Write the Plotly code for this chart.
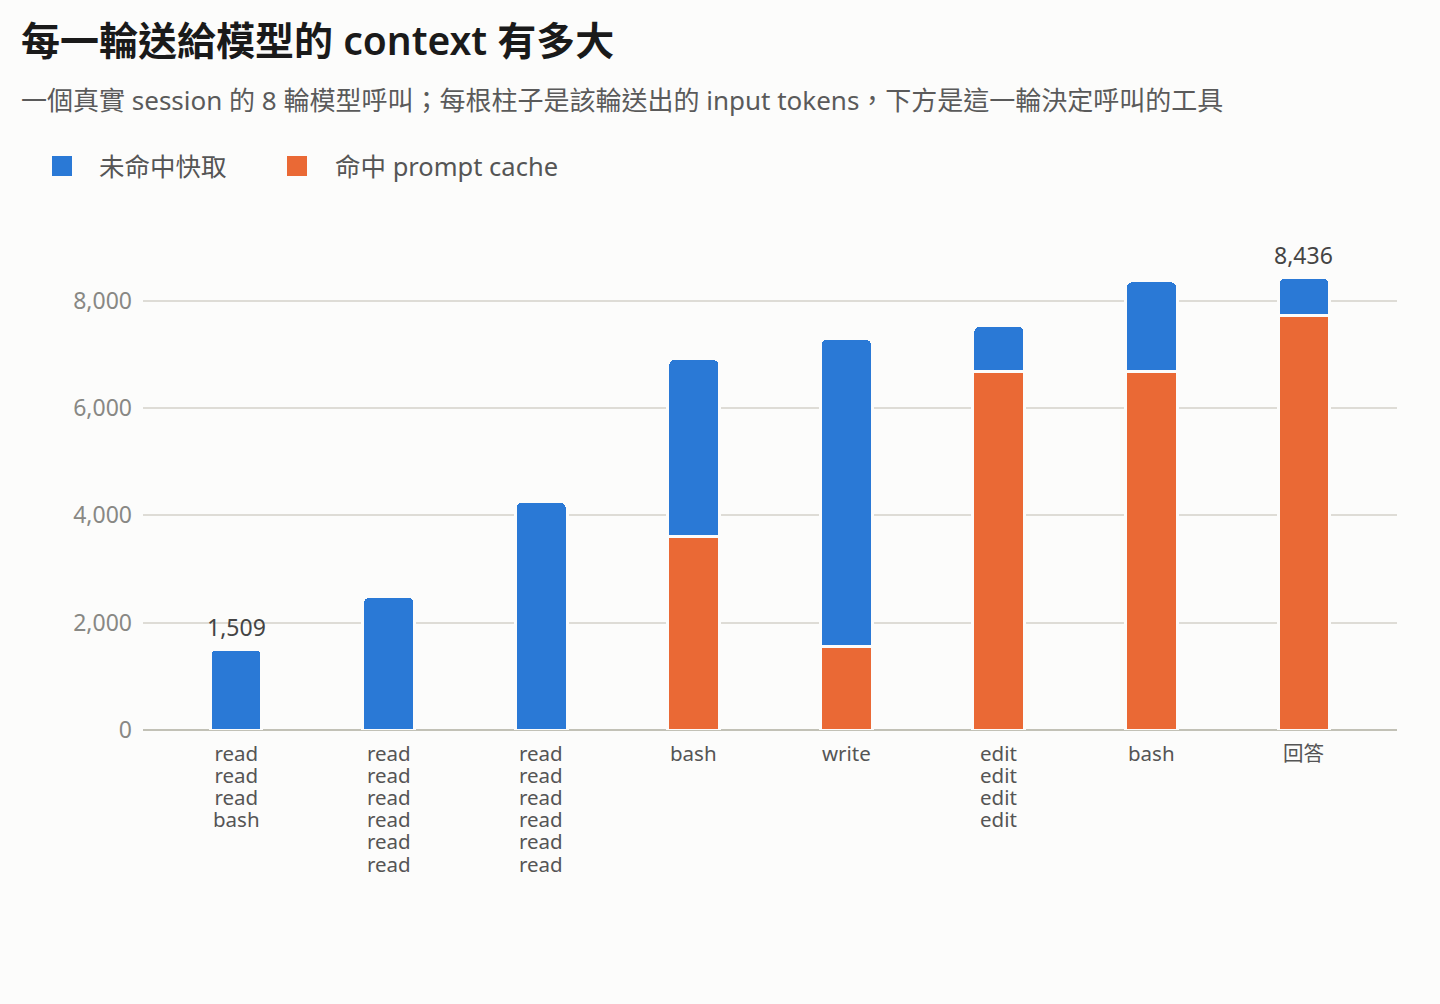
import plotly.graph_objects as go

# 8 輪模型呼叫，每輪送出的 input tokens
rounds = list(range(8))
tool_labels = [
    "read<br>read<br>read<br>bash",
    "read<br>read<br>read<br>read<br>read<br>read",
    "read<br>read<br>read<br>read<br>read<br>read",
    "bash",
    "write",
    "edit<br>edit<br>edit<br>edit",
    "bash",
    "回答",
]
cached = [0, 0, 0, 3610, 1560, 6690, 6690, 7720]
total = [1509, 2490, 4260, 6920, 7300, 7540, 8370, 8436]
uncached = [t - c for t, c in zip(total, cached)]

series_names = ["未命中快取", "命中 prompt cache"]

BG = "#fcfcfb"
BLUE = "#2a79d6"
ORANGE = "#ea6935"
FONT = "Noto Sans, Noto Sans CJK TC, sans-serif"

fig = go.Figure()
fig.add_trace(
    go.Bar(
        x=rounds,
        y=cached,
        name=series_names[1],
        marker=dict(color=ORANGE, line=dict(color=BG, width=3)),
        width=0.34,
        hoverinfo="skip",
    )
)
fig.add_trace(
    go.Bar(
        x=rounds,
        y=uncached,
        name=series_names[0],
        marker=dict(color=BLUE, line=dict(color=BG, width=3), cornerradius=6),
        width=0.34,
        hoverinfo="skip",
    )
)

# first and last bar get a total label
for i in (0, len(rounds) - 1):
    fig.add_annotation(
        x=rounds[i],
        y=total[i],
        text=f"{total[i]:,}",
        showarrow=False,
        yanchor="bottom",
        yshift=4,
        font=dict(size=23, color="#444444", family=FONT),
    )

# tool names under each bar; small base size keeps the line pitch tight,
# the span brings the glyphs back up to the original size
for i, lab in zip(rounds, tool_labels):
    text = "<br>".join(
        f"<span style='font-size:20.5px'>{ln}</span>" for ln in lab.split("<br>")
    )
    fig.add_annotation(
        x=i,
        y=0,
        text=text,
        showarrow=False,
        yanchor="top",
        yshift=-7,
        font=dict(size=17, color="#555555", family=FONT),
    )

# title + subtitle
fig.add_annotation(
    xref="paper", yref="paper", x=-0.0989, y=1.383,
    xanchor="left", yanchor="middle", showarrow=False,
    text="每一輪送給模型的 context 有多大",
    font=dict(size=39, color="#1a1a1a", family=FONT, weight=600),
)
fig.add_annotation(
    xref="paper", yref="paper", x=-0.0989, y=1.2625,
    xanchor="left", yanchor="middle", showarrow=False,
    text="一個真實 session 的 8 輪模型呼叫；每根柱子是該輪送出的 input tokens，下方是這一輪決定呼叫的工具",
    font=dict(size=26, color="#5a5a5a", family=FONT),
)

# legend drawn by hand so the swatches can be as large as in the original
legend_items = [
    (series_names[0], BLUE, -0.07257, -0.03668),
    (series_names[1], ORANGE, 0.11483, 0.15152),
]
for name, color, x0, tx in legend_items:
    fig.add_shape(
        type="rect", xref="paper", yref="paper",
        x0=x0, x1=x0 + 0.01595, y0=1.1102, y1=1.1503,
        fillcolor=color, line=dict(width=0),
    )
    fig.add_annotation(
        xref="paper", yref="paper", x=tx, y=1.1303,
        xanchor="left", yanchor="middle", showarrow=False,
        text=name,
        font=dict(size=25.5, color="#555555", family=FONT),
    )

fig.update_layout(
    width=1440,
    height=1004,
    barmode="stack",
    paper_bgcolor=BG,
    plot_bgcolor=BG,
    margin=dict(l=143, r=43, t=231, b=274),
    font=dict(family=FONT, color="#555555"),
    showlegend=False,
)
fig.update_xaxes(
    range=[-0.61, 7.61],
    tickvals=rounds,
    showticklabels=False,
    showgrid=False,
    showline=False,
    ticks="",
    zeroline=False,
)
fig.update_yaxes(
    range=[0, 9300],
    tickvals=[0, 2000, 4000, 6000, 8000],
    tickformat=",",
    tickfont=dict(size=23, color="#888884", family=FONT),
    gridcolor="#dedcd6",
    gridwidth=1.5,
    zeroline=True,
    zerolinecolor="#c2c1b6",
    zerolinewidth=2,
    ticklabelstandoff=10,
)

fig.write_html(
    "out.html",
    config={"displayModeBar": False},
    post_script="document.body.style.margin='0';",
)
